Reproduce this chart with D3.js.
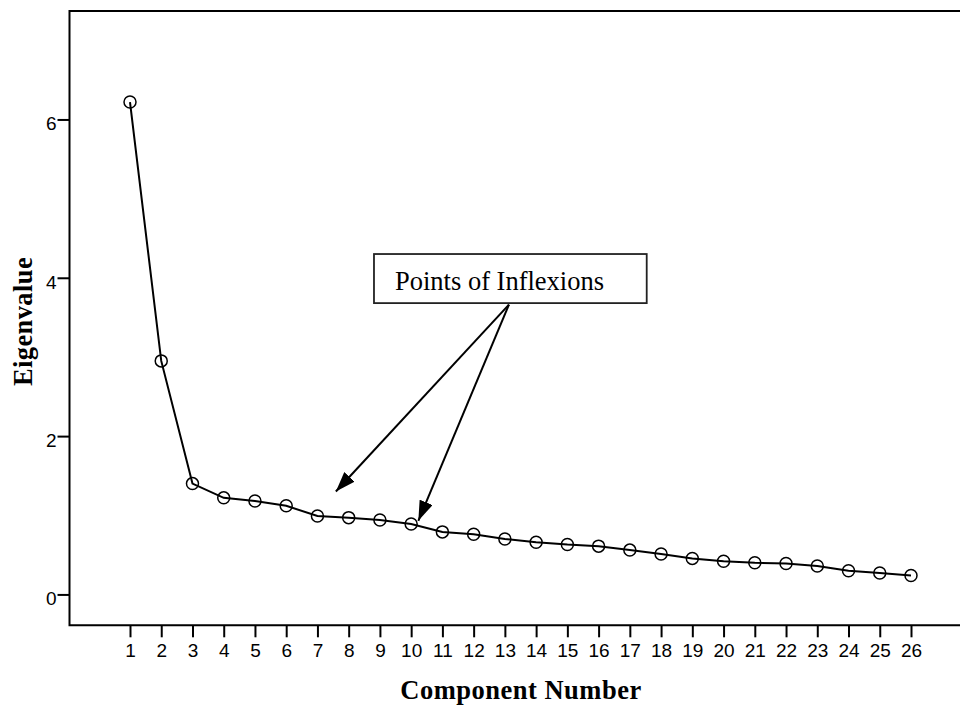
<!DOCTYPE html>
<html>
<head>
<meta charset="utf-8">
<script src="https://cdn.jsdelivr.net/npm/d3@7"></script>
<style>
  html, body { margin: 0; padding: 0; background: #fff; }
  svg { display: block; }
</style>
</head>
<body>
<svg id="chart" width="960" height="705"></svg>
<script>
// Scree plot: eigenvalue of each principal component
const components = d3.range(1, 27);
const eigenvalues = [6.22, 2.95, 1.40, 1.22, 1.18, 1.12, 0.99, 0.97, 0.94, 0.89,
                     0.79, 0.76, 0.70, 0.66, 0.63, 0.61, 0.56, 0.51, 0.455, 0.42,
                     0.40, 0.39, 0.36, 0.30, 0.27, 0.24];
const yTicks = [0, 2, 4, 6];

// Annotation: label box and arrows pointing at the inflexion points (data units)
const noteText = "Points of Inflexions";
const noteBox = { x0: 8.81, x1: 17.54, y0: 4.30, y1: 3.68 };
const arrowFrom = { x: 13.13, y: 3.66 };
const arrowTips = [{ x: 7.59, y: 1.30 }, { x: 10.23, y: 0.93 }];

const svg = d3.select("#chart");
const frame = { left: 69.5, top: 11, bottom: 625.3, right: 962 };

const x = d3.scaleLinear().domain([1, 26]).range([130, 911]);
const y = d3.scaleLinear().domain([-0.39, 7.37]).range([frame.bottom, frame.top]);

const sans = "'Liberation Sans', Arial, sans-serif";
const serif = "'Liberation Serif', 'Times New Roman', serif";

// Plot frame (top and bottom run off the right edge)
svg.append("path")
  .attr("d", `M${frame.right},${frame.top}H${frame.left}V${frame.bottom}H${frame.right}`)
  .attr("fill", "none").attr("stroke", "#000").attr("stroke-width", 2);

// Y axis
const yAxis = svg.append("g")
  .attr("transform", `translate(${frame.left},0)`)
  .call(d3.axisLeft(y).tickValues(yTicks).tickFormat(d3.format("d")).tickSize(12).tickPadding(1));
yAxis.select(".domain").remove();
yAxis.selectAll(".tick line").attr("stroke", "#000").attr("stroke-width", 2);
yAxis.selectAll(".tick text")
  .attr("font-family", sans)
  .attr("font-size", 19).attr("fill", "#000").attr("dy", "0.55em");

// X axis
const xAxis = svg.append("g")
  .attr("transform", `translate(0,${frame.bottom})`)
  .call(d3.axisBottom(x).tickValues(components).tickFormat(d3.format("d")).tickSize(12).tickPadding(6));
xAxis.select(".domain").remove();
xAxis.selectAll(".tick line").attr("stroke", "#000").attr("stroke-width", 2);
xAxis.selectAll(".tick text")
  .attr("font-family", sans)
  .attr("font-size", 19).attr("fill", "#000");

// Axis titles
svg.append("text")
  .attr("x", 521).attr("y", 699)
  .attr("text-anchor", "middle")
  .attr("font-family", serif)
  .attr("font-weight", "bold").attr("font-size", 26.5)
  .attr("letter-spacing", 0.5)
  .text("Component Number");

svg.append("text")
  .attr("transform", "translate(32,321.5) rotate(-90)")
  .attr("text-anchor", "middle")
  .attr("font-family", serif)
  .attr("font-weight", "bold").attr("font-size", 26.5)
  .attr("letter-spacing", 0.4)
  .text("Eigenvalue");

// Line and markers
const pts = components.map((c, i) => ({ c, v: eigenvalues[i] }));
svg.append("path")
  .datum(pts)
  .attr("fill", "none").attr("stroke", "#000").attr("stroke-width", 2)
  .attr("d", d3.line().x(d => x(d.c)).y(d => y(d.v)));

svg.append("g").selectAll("circle")
  .data(pts).join("circle")
  .attr("cx", d => x(d.c)).attr("cy", d => y(d.v)).attr("r", 6)
  .attr("fill", "none").attr("stroke", "#000").attr("stroke-width", 1.5);

// Annotation arrows
const defs = svg.append("defs");
defs.append("marker")
  .attr("id", "arrowhead")
  .attr("viewBox", "0 0 20 14")
  .attr("refX", 20).attr("refY", 7)
  .attr("markerWidth", 20).attr("markerHeight", 14)
  .attr("markerUnits", "userSpaceOnUse")
  .attr("orient", "auto")
  .append("path").attr("d", "M0,0L20,7L0,14Z").attr("fill", "#000");

svg.append("g").selectAll("line")
  .data(arrowTips).join("line")
  .attr("x1", x(arrowFrom.x)).attr("y1", y(arrowFrom.y))
  .attr("x2", d => x(d.x)).attr("y2", d => y(d.y))
  .attr("stroke", "#000").attr("stroke-width", 2)
  .attr("marker-end", "url(#arrowhead)");

// Annotation box
svg.append("rect")
  .attr("x", x(noteBox.x0)).attr("y", y(noteBox.y0))
  .attr("width", x(noteBox.x1) - x(noteBox.x0))
  .attr("height", y(noteBox.y1) - y(noteBox.y0))
  .attr("fill", "#fff").attr("stroke", "#222").attr("stroke-width", 1.8);

svg.append("text")
  .attr("x", x(noteBox.x0) + 21).attr("y", 290)
  .attr("font-family", serif)
  .attr("font-size", 26.5).attr("fill", "#000")
  .text(noteText);
</script>
</body>
</html>
